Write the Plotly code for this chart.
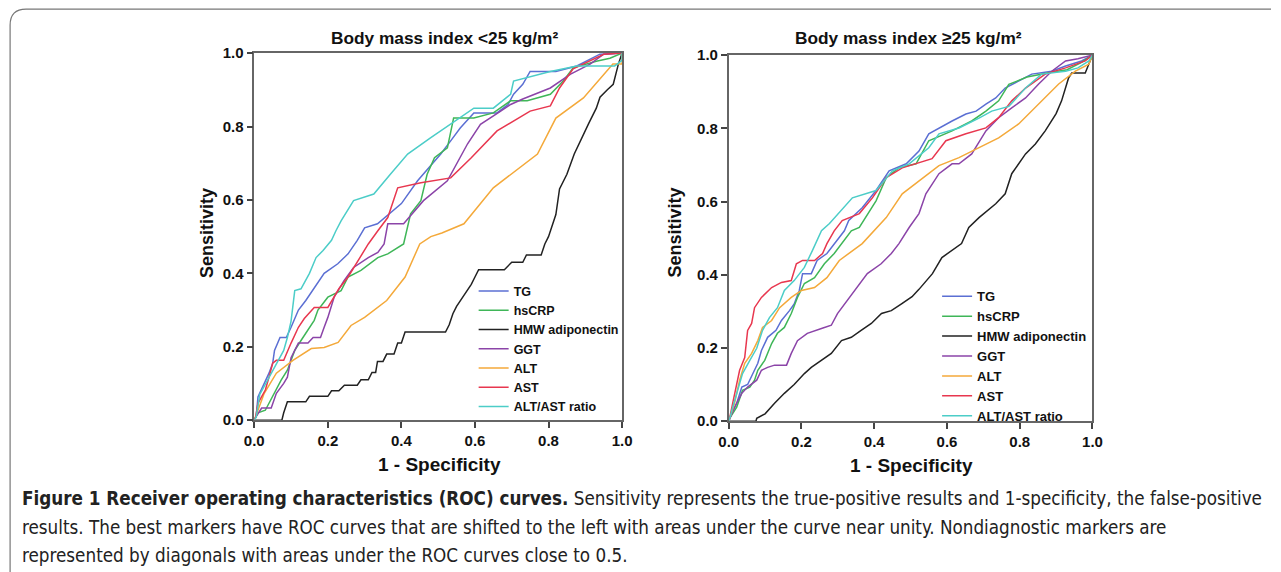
import plotly.graph_objects as go

# ---------------- data: Body mass index < 25 (left panel) ----------------
SERIES = ["TG", "hsCRP", "HMW adiponectin", "GGT", "ALT", "AST", "ALT/AST ratio"]
COLORS = ["#5b6fd3", "#3fb658", "#222222", "#8b44a8", "#f4a93a", "#e8374f", "#4ccdc8"]
TICKS = [0.0, 0.2, 0.4, 0.6, 0.8, 1.0]

L_TG_X = [0, 0.005, 0.01, 0.04, 0.05, 0.055, 0.07, 0.087, 0.10, 0.12, 0.14, 0.163, 0.19, 0.227, 0.255, 0.28, 0.30, 0.335, 0.40, 0.444, 0.49, 0.507, 0.534, 0.56, 0.597, 0.66, 0.69, 0.705, 0.73, 0.75, 0.82, 0.877, 0.94, 1.0]
L_TG_Y = [0, 0.01, 0.063, 0.128, 0.155, 0.19, 0.225, 0.225, 0.253, 0.30, 0.326, 0.36, 0.40, 0.426, 0.453, 0.49, 0.524, 0.535, 0.59, 0.652, 0.707, 0.725, 0.761, 0.796, 0.837, 0.837, 0.86, 0.888, 0.915, 0.95, 0.95, 0.965, 0.997, 1.0]

L_CRP_X = [0, 0.005, 0.01, 0.03, 0.04, 0.055, 0.073, 0.09, 0.11, 0.127, 0.146, 0.163, 0.173, 0.2, 0.236, 0.255, 0.29, 0.336, 0.363, 0.406, 0.425, 0.453, 0.47, 0.49, 0.525, 0.542, 0.597, 0.65, 0.697, 0.742, 0.805, 0.84, 0.867, 0.93, 0.967, 1.0]
L_CRP_Y = [0, 0.01, 0.02, 0.027, 0.046, 0.073, 0.109, 0.136, 0.19, 0.217, 0.245, 0.272, 0.30, 0.335, 0.353, 0.39, 0.408, 0.443, 0.453, 0.48, 0.562, 0.598, 0.67, 0.715, 0.742, 0.823, 0.823, 0.837, 0.87, 0.87, 0.888, 0.924, 0.96, 0.978, 0.986, 1.0]

L_HMW_X = [0, 0.075, 0.08, 0.09, 0.14, 0.15, 0.20, 0.21, 0.23, 0.245, 0.28, 0.29, 0.31, 0.32, 0.33, 0.335, 0.35, 0.36, 0.38, 0.39, 0.40, 0.41, 0.52, 0.53, 0.54, 0.55, 0.57, 0.59, 0.60, 0.61, 0.68, 0.70, 0.73, 0.74, 0.78, 0.79, 0.80, 0.82, 0.83, 0.85, 0.87, 0.89, 0.91, 0.93, 0.94, 0.96, 0.976, 0.99, 1.0]
L_HMW_Y = [0, 0, 0.02, 0.05, 0.05, 0.065, 0.065, 0.08, 0.08, 0.095, 0.095, 0.11, 0.11, 0.13, 0.13, 0.16, 0.16, 0.18, 0.18, 0.21, 0.21, 0.24, 0.24, 0.26, 0.29, 0.31, 0.34, 0.37, 0.39, 0.41, 0.41, 0.43, 0.43, 0.45, 0.45, 0.48, 0.50, 0.56, 0.63, 0.67, 0.725, 0.77, 0.81, 0.85, 0.88, 0.90, 0.915, 0.97, 1.0]

L_GGT_X = [0, 0.005, 0.02, 0.046, 0.06, 0.08, 0.09, 0.10, 0.12, 0.146, 0.16, 0.18, 0.19, 0.2, 0.217, 0.244, 0.27, 0.31, 0.336, 0.353, 0.363, 0.406, 0.46, 0.525, 0.58, 0.615, 0.67, 0.697, 0.73, 0.77, 0.805, 0.86, 0.913, 0.95, 1.0]
L_GGT_Y = [0, 0.01, 0.033, 0.033, 0.073, 0.10, 0.117, 0.17, 0.21, 0.21, 0.225, 0.225, 0.253, 0.28, 0.335, 0.38, 0.416, 0.443, 0.457, 0.48, 0.535, 0.535, 0.598, 0.652, 0.753, 0.806, 0.842, 0.86, 0.875, 0.89, 0.905, 0.943, 0.97, 0.997, 1.0]

L_ALT_X = [0, 0.027, 0.06, 0.105, 0.155, 0.19, 0.228, 0.263, 0.30, 0.36, 0.41, 0.45, 0.48, 0.51, 0.57, 0.65, 0.77, 0.82, 0.895, 0.95, 0.975, 1.0, 1.0]
L_ALT_Y = [0, 0.073, 0.128, 0.163, 0.195, 0.198, 0.212, 0.258, 0.28, 0.326, 0.39, 0.48, 0.50, 0.51, 0.535, 0.633, 0.725, 0.823, 0.878, 0.943, 0.97, 0.97, 1.0]

L_AST_X = [0, 0.004, 0.01, 0.03, 0.04, 0.05, 0.06, 0.08, 0.10, 0.12, 0.136, 0.163, 0.2, 0.217, 0.23, 0.255, 0.28, 0.31, 0.336, 0.363, 0.39, 0.453, 0.534, 0.59, 0.66, 0.75, 0.805, 0.83, 0.867, 0.913, 0.95, 1.0]
L_AST_Y = [0, 0.01, 0.046, 0.082, 0.117, 0.155, 0.163, 0.163, 0.21, 0.253, 0.277, 0.307, 0.307, 0.335, 0.358, 0.39, 0.43, 0.48, 0.516, 0.552, 0.633, 0.647, 0.66, 0.715, 0.788, 0.842, 0.856, 0.905, 0.957, 0.978, 0.997, 1.0]

L_RAT_X = [0, 0.005, 0.015, 0.04, 0.06, 0.08, 0.09, 0.10, 0.11, 0.127, 0.15, 0.168, 0.187, 0.21, 0.222, 0.236, 0.27, 0.325, 0.37, 0.417, 0.48, 0.534, 0.56, 0.597, 0.65, 0.697, 0.705, 0.805, 0.877, 0.93, 0.98, 1.0, 1.0]
L_RAT_Y = [0, 0.008, 0.07, 0.117, 0.155, 0.19, 0.225, 0.27, 0.353, 0.358, 0.40, 0.443, 0.462, 0.49, 0.516, 0.543, 0.598, 0.616, 0.67, 0.725, 0.77, 0.806, 0.823, 0.85, 0.85, 0.888, 0.924, 0.95, 0.965, 0.965, 0.965, 0.98, 1.0]

# ---------------- data: Body mass index >= 25 (right panel) ----------------
R_TG_X = [0, 0.003, 0.022, 0.036, 0.052, 0.066, 0.08, 0.09, 0.107, 0.13, 0.145, 0.167, 0.18, 0.194, 0.203, 0.227, 0.243, 0.27, 0.29, 0.318, 0.33, 0.367, 0.405, 0.441, 0.488, 0.523, 0.55, 0.578, 0.614, 0.652, 0.68, 0.707, 0.734, 0.76, 0.797, 0.833, 0.888, 0.926, 0.97, 1.0]
R_TG_Y = [0, 0.008, 0.049, 0.093, 0.10, 0.13, 0.158, 0.193, 0.229, 0.248, 0.275, 0.302, 0.32, 0.357, 0.403, 0.403, 0.439, 0.458, 0.485, 0.52, 0.548, 0.583, 0.63, 0.684, 0.703, 0.738, 0.785, 0.801, 0.82, 0.839, 0.847, 0.866, 0.883, 0.91, 0.929, 0.948, 0.956, 0.97, 0.984, 1.0]

R_CRP_X = [0, 0.003, 0.022, 0.038, 0.058, 0.071, 0.08, 0.099, 0.118, 0.134, 0.153, 0.172, 0.189, 0.208, 0.236, 0.263, 0.29, 0.318, 0.337, 0.359, 0.405, 0.433, 0.468, 0.515, 0.55, 0.614, 0.668, 0.707, 0.742, 0.77, 0.82, 0.88, 0.93, 0.97, 1.0]
R_CRP_Y = [0, 0.008, 0.038, 0.084, 0.093, 0.112, 0.139, 0.166, 0.212, 0.24, 0.256, 0.294, 0.338, 0.376, 0.392, 0.43, 0.458, 0.493, 0.52, 0.529, 0.602, 0.665, 0.692, 0.703, 0.766, 0.793, 0.82, 0.847, 0.875, 0.92, 0.94, 0.952, 0.96, 0.98, 1.0]

R_HMW_X = [0, 0.075, 0.077, 0.10, 0.126, 0.153, 0.18, 0.208, 0.227, 0.255, 0.282, 0.31, 0.337, 0.364, 0.392, 0.42, 0.447, 0.474, 0.504, 0.523, 0.56, 0.586, 0.614, 0.64, 0.66, 0.688, 0.734, 0.76, 0.778, 0.816, 0.843, 0.87, 0.90, 0.915, 0.934, 0.943, 0.98, 0.99, 1.0]
R_HMW_Y = [0, 0, 0.008, 0.02, 0.049, 0.076, 0.10, 0.13, 0.147, 0.166, 0.185, 0.22, 0.229, 0.248, 0.267, 0.294, 0.302, 0.32, 0.34, 0.36, 0.403, 0.447, 0.466, 0.485, 0.529, 0.556, 0.594, 0.621, 0.676, 0.73, 0.757, 0.793, 0.84, 0.875, 0.937, 0.951, 0.951, 0.975, 1.0]

R_GGT_X = [0, 0.003, 0.016, 0.036, 0.052, 0.077, 0.09, 0.107, 0.126, 0.159, 0.172, 0.189, 0.216, 0.255, 0.282, 0.299, 0.326, 0.353, 0.381, 0.419, 0.447, 0.468, 0.496, 0.523, 0.542, 0.578, 0.614, 0.633, 0.668, 0.707, 0.742, 0.778, 0.816, 0.852, 0.888, 0.926, 0.96, 1.0]
R_GGT_Y = [0, 0.008, 0.038, 0.076, 0.093, 0.112, 0.139, 0.147, 0.153, 0.153, 0.185, 0.22, 0.24, 0.253, 0.262, 0.294, 0.33, 0.365, 0.403, 0.43, 0.458, 0.485, 0.529, 0.567, 0.621, 0.676, 0.703, 0.703, 0.73, 0.793, 0.829, 0.856, 0.883, 0.921, 0.956, 0.984, 0.99, 1.0]

R_ALT_X = [0, 0.003, 0.016, 0.03, 0.044, 0.063, 0.08, 0.093, 0.118, 0.14, 0.172, 0.2, 0.236, 0.27, 0.304, 0.367, 0.433, 0.477, 0.523, 0.578, 0.633, 0.688, 0.742, 0.797, 0.852, 0.907, 0.953, 0.99, 1.0]
R_ALT_Y = [0, 0.01, 0.049, 0.112, 0.158, 0.185, 0.22, 0.256, 0.275, 0.31, 0.338, 0.357, 0.365, 0.392, 0.439, 0.485, 0.556, 0.621, 0.657, 0.698, 0.72, 0.747, 0.774, 0.812, 0.866, 0.921, 0.956, 0.975, 1.0]

R_AST_X = [0, 0.003, 0.011, 0.022, 0.03, 0.044, 0.049, 0.052, 0.063, 0.071, 0.09, 0.118, 0.145, 0.172, 0.186, 0.203, 0.236, 0.258, 0.27, 0.29, 0.312, 0.359, 0.395, 0.433, 0.477, 0.515, 0.559, 0.597, 0.652, 0.707, 0.742, 0.778, 0.816, 0.87, 0.926, 0.98, 1.0]
R_AST_Y = [0, 0.01, 0.049, 0.103, 0.139, 0.174, 0.22, 0.248, 0.267, 0.31, 0.338, 0.365, 0.379, 0.384, 0.43, 0.439, 0.439, 0.458, 0.485, 0.52, 0.548, 0.567, 0.61, 0.665, 0.692, 0.703, 0.717, 0.766, 0.785, 0.801, 0.829, 0.875, 0.91, 0.948, 0.965, 0.984, 1.0]

R_RAT_X = [0, 0.003, 0.011, 0.025, 0.038, 0.058, 0.077, 0.093, 0.112, 0.134, 0.153, 0.18, 0.208, 0.23, 0.255, 0.277, 0.34, 0.405, 0.433, 0.45, 0.496, 0.55, 0.578, 0.633, 0.688, 0.723, 0.77, 0.816, 0.86, 0.926, 0.96, 0.99, 1.0]
R_RAT_Y = [0, 0.008, 0.038, 0.084, 0.13, 0.166, 0.199, 0.248, 0.283, 0.31, 0.357, 0.384, 0.42, 0.466, 0.52, 0.54, 0.61, 0.63, 0.665, 0.684, 0.703, 0.747, 0.785, 0.801, 0.828, 0.847, 0.86, 0.91, 0.948, 0.956, 0.965, 0.984, 1.0]

LEFT = [(L_TG_X, L_TG_Y), (L_CRP_X, L_CRP_Y), (L_HMW_X, L_HMW_Y), (L_GGT_X, L_GGT_Y),
        (L_ALT_X, L_ALT_Y), (L_AST_X, L_AST_Y), (L_RAT_X, L_RAT_Y)]
RIGHT = [(R_TG_X, R_TG_Y), (R_CRP_X, R_CRP_Y), (R_HMW_X, R_HMW_Y), (R_GGT_X, R_GGT_Y),
         (R_ALT_X, R_ALT_Y), (R_AST_X, R_AST_Y), (R_RAT_X, R_RAT_Y)]

# layout helpers: target pixel positions -> figure pixels (compensates the viewer's framing)
W, H = 1281, 572
SX, SY, OFF = 1281 / 1297, 572 / 588, 8
def fx(x):
    return x / SX - OFF
def fy(y):
    return y / SY - OFF
def px(x):
    return fx(x) / W
def py(y):
    return 1 - fy(y) / H

fig = go.Figure()
for i, (name, col) in enumerate(zip(SERIES, COLORS)):
    xs, ys = LEFT[i]
    fig.add_trace(go.Scatter(x=xs, y=ys, mode="lines", name=name, line=dict(color=col, width=1.5),
                             xaxis="x", yaxis="y", legend="legend"))
for i, (name, col) in enumerate(zip(SERIES, COLORS)):
    xs, ys = RIGHT[i]
    fig.add_trace(go.Scatter(x=xs, y=ys, mode="lines", name=name, line=dict(color=col, width=1.5),
                             xaxis="x2", yaxis="y2", legend="legend2"))

FONT_B = "Liberation Sans, Arial, sans-serif"
axis_common = dict(range=[0, 1], tickvals=TICKS, tickformat=".1f", showgrid=False, zeroline=False,
                   showline=True, mirror=True, linecolor="#666666", linewidth=1.5,
                   ticks="outside", ticklen=6, tickcolor="#444444", tickwidth=1.5,
                   tickfont=dict(family=FONT_B, size=15, color="#111111", weight="bold"))

fig.update_layout(
    width=W, height=H, margin=dict(l=0, r=0, t=0, b=0),
    paper_bgcolor="white", plot_bgcolor="white",
    xaxis=dict(domain=[px(253), px(622)], anchor="y", **axis_common),
    yaxis=dict(domain=[py(420), py(52)], anchor="x", **axis_common),
    xaxis2=dict(domain=[px(729), px(1094)], anchor="y2", **axis_common),
    yaxis2=dict(domain=[py(421), py(54)], anchor="x2", **axis_common),
    legend=dict(x=(fx(480) - 7) / W, y=1 - (fy(291) - 15.6) / H, xanchor="left", yanchor="top",
                bgcolor="rgba(0,0,0,0)", itemwidth=30, tracegroupgap=0,
                font=dict(family=FONT_B, size=12.5, color="#111111", weight="bold")),
    legend2=dict(x=(fx(945) - 7) / W, y=1 - (fy(296) - 15.6) / H, xanchor="left", yanchor="top",
                 bgcolor="rgba(0,0,0,0)", itemwidth=30, tracegroupgap=0,
                 font=dict(family=FONT_B, size=13, color="#111111", weight="bold")),
)

ann = []
def add_text(text, x, y, size, angle=0, xanchor="center", family=FONT_B, color="#111"):
    ann.append(dict(text=text, x=px(x), y=py(y), xref="paper", yref="paper", textangle=angle,
                    xanchor=xanchor, yanchor="middle", showarrow=False, align="left",
                    font=dict(family=family, size=size, color=color)))

add_text("<b>Body mass index &lt;25 kg/m²</b>", 443.5, 37, 17.3)
add_text("<b>Body mass index ≥25 kg/m²</b>", 909.5, 37, 17.3)
add_text("<b>Sensitivity</b>", 205, 232, 18, angle=-90)
add_text("<b>Sensitivity</b>", 675, 232, 18, angle=-90)
add_text("<b>1 - Specificity</b>", 438.5, 464, 19)
add_text("<b>1 - Specificity</b>", 912.5, 465, 19)

CAP_FONT = "Liberation Sans Narrow, DejaVu Sans Condensed, Arial Narrow, sans-serif"
CAPTION = [
    "<b>Figure 1 Receiver operating characteristics (ROC) curves.</b> Sensitivity represents the true-positive results and 1-specificity, the false-positive",
    "results. The best markers have ROC curves that are shifted to the left with areas under the curve near unity. Nondiagnostic markers are",
    "represented by diagonals with areas under the ROC curves close to 0.5.",
]
for k, line in enumerate(CAPTION):
    add_text(line, 18, 499 + 28.5 * k, 18.7, xanchor="left", family=CAP_FONT, color="#222")
fig.update_layout(annotations=ann)

# rounded outer frame (left and top edges)
r = 16
fig.add_shape(type="path", xref="paper", yref="paper",
              path=f"M {px(8)},{py(590)} L {px(8)},{py(8 + r)} Q {px(8)},{py(8)} {px(8 + r)},{py(8)} L {1.0},{py(8)}",
              line=dict(color="#777777", width=1.2))

fig.write_html("out.html", config={"displayModeBar": False},
               post_script="document.body.style.margin='0';document.body.style.overflow='hidden';")
